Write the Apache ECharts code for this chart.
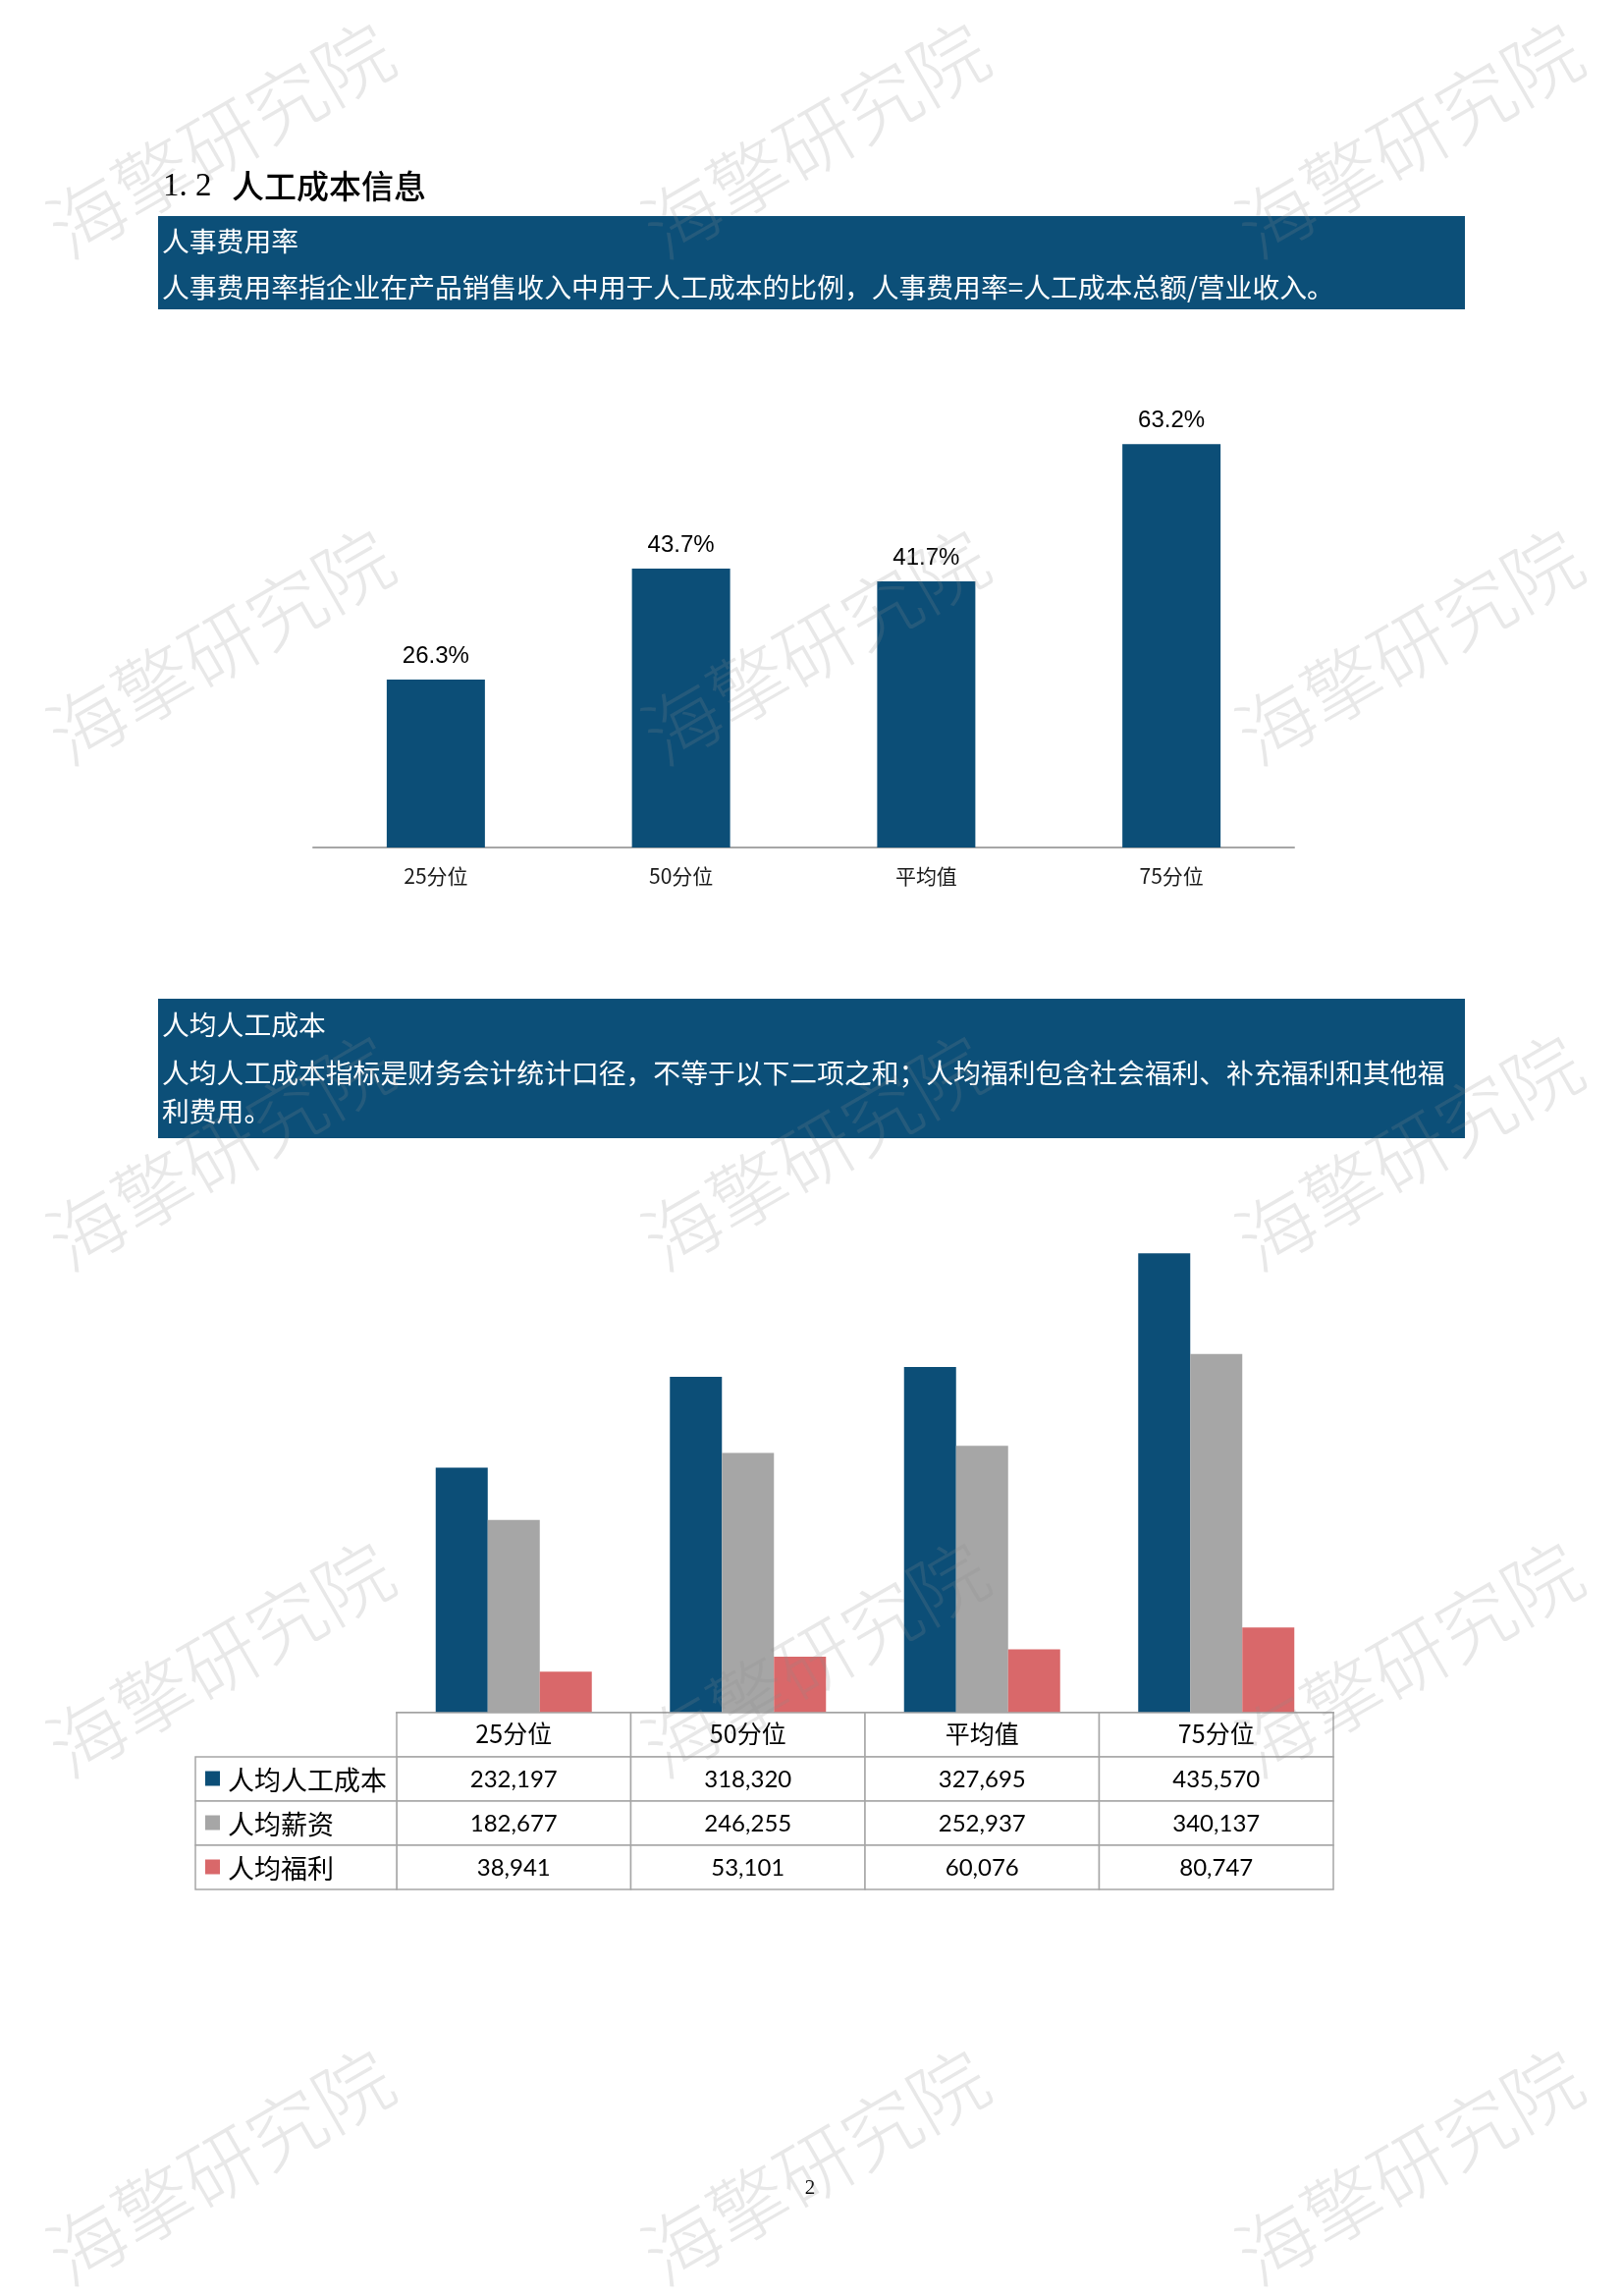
<!DOCTYPE html>
<html>
<head>
<meta charset="utf-8">
<script src="https://cdn.jsdelivr.net/npm/echarts@6/dist/echarts.min.js"></script>
<style>
html,body{margin:0;padding:0;background:#fff;}
#main{width:1653px;height:2338px;}
</style>
</head>
<body>
<div id="main"></div>
<script>
// ---- data ----
const categories = ['25分位', '50分位', '平均值', '75分位'];
const rateValues = [26.3, 43.7, 41.7, 63.2];
const seriesNames = ['人均人工成本', '人均薪资', '人均福利'];
const laborCost = [232197, 318320, 327695, 435570];
const salary = [182677, 246255, 252937, 340137];
const welfare = [38941, 53101, 60076, 80747];
const colors = ['#0c4e77', '#a6a6a6', '#d9686a'];
const rateAxisMax = 70;
const costAxisMax = 500000;

// ---- helpers ----
const cjk = '"Noto Sans CJK SC", "Noto Sans", sans-serif';
const seriesValues = [laborCost, salary, welfare];
const fmt = v => v.toLocaleString('en-US');

// table cells (header row + 3 value rows)
const tableCells = [];
const tableTexts = [];
categories.forEach((c, i) => {
  tableCells.push([i, 0]); tableTexts.push({t: c, header: true});
  seriesValues.forEach((arr, r) => {
    tableCells.push([i, r + 1]); tableTexts.push({t: fmt(arr[i]), header: false});
  });
});
const legendCells = seriesNames.map((n, r) => [0, r]);

// watermarks
const wmCols = [224, 830, 1435];
const wmRows = [142, 658, 1173, 1689, 2206];
const watermarks = [];
wmRows.forEach(y => wmCols.forEach(x => {
  watermarks.push({
    type: 'text', x: x, y: y, rotation: Math.PI / 6, z: 100, silent: true,
    style: {text: '海擎研究院', fill: 'rgba(140,140,140,0.2)', fontSize: 78,
            fontFamily: cjk, fontWeight: 300, align: 'center', verticalAlign: 'middle'}
  });
}));

const boxText = (text, x, y) => ({
  type: 'text', x: x, y: y, z: 10,
  style: {text: text, fill: '#ffffff', fontSize: 27.8, fontFamily: cjk,
          align: 'left', verticalAlign: 'middle'}
});

const chart = echarts.init(document.getElementById('main'), null, {renderer: 'canvas'});
chart.setOption({
  backgroundColor: '#ffffff',
  animation: false,
  graphic: [
    {type: 'text', x: 166, y: 190, z: 10,
     style: {text: '1. 2', fill: '#000', fontSize: 33,
             fontFamily: '"Liberation Serif", serif', align: 'left', verticalAlign: 'middle'}},
    {type: 'text', x: 236, y: 189, z: 10,
     style: {text: '人工成本信息', fill: '#000', fontSize: 33, fontWeight: 500,
             fontFamily: cjk, align: 'left', verticalAlign: 'middle'}},
    {type: 'rect', shape: {x: 161, y: 220, width: 1331, height: 95}, style: {fill: '#0c4f78'}, z: 5},
    boxText('人事费用率', 165, 245),
    boxText('人事费用率指企业在产品销售收入中用于人工成本的比例，人事费用率=人工成本总额/营业收入。', 165, 292),
    {type: 'rect', shape: {x: 161, y: 1017, width: 1331, height: 142}, style: {fill: '#0c4f78'}, z: 5},
    boxText('人均人工成本', 165, 1043),
    boxText('人均人工成本指标是财务会计统计口径，不等于以下二项之和；人均福利包含社会福利、补充福利和其他福', 165, 1092),
    boxText('利费用。', 165, 1131),
    {type: 'text', x: 825, y: 2228, z: 10,
     style: {text: '2', fill: '#000', fontSize: 21, fontFamily: '"Liberation Serif", serif',
             align: 'center', verticalAlign: 'middle'}}
  ].concat(watermarks),
  grid: [
    {left: 319, top: 408, width: 999, height: 455, containLabel: false, outerBoundsMode: 'none'},
    {left: 404, top: 1207, width: 954, height: 537, containLabel: false, outerBoundsMode: 'none'},
    {left: 404, top: 1744, width: 954, height: 180, containLabel: false, outerBoundsMode: 'none'},
    {left: 199, top: 1789, width: 205, height: 135, containLabel: false, outerBoundsMode: 'none'}
  ],
  xAxis: [
    {gridIndex: 0, type: 'category', data: categories,
     axisLine: {show: true, lineStyle: {color: '#a6a6a6', width: 2}},
     axisTick: {show: false}, splitLine: {show: false},
     axisLabel: {margin: 19, fontSize: 21, color: '#1a1a1a', fontFamily: cjk}},
    {gridIndex: 1, type: 'category', data: categories,
     axisLine: {show: true, lineStyle: {color: '#9a9a9a', width: 2}},
     axisTick: {show: false}, axisLabel: {show: false}, splitLine: {show: false}},
    {gridIndex: 2, type: 'category', data: categories, show: false},
    {gridIndex: 3, type: 'category', data: [''], show: false}
  ],
  yAxis: [
    {gridIndex: 0, type: 'value', min: 0, max: rateAxisMax, show: false, splitLine: {show: false}},
    {gridIndex: 1, type: 'value', min: 0, max: costAxisMax, show: false, splitLine: {show: false}},
    {gridIndex: 2, type: 'category', data: [''].concat(seriesNames), inverse: true, show: false},
    {gridIndex: 3, type: 'category', data: seriesNames, inverse: true, show: false}
  ],
  series: [
    {type: 'bar', name: '人事费用率', xAxisIndex: 0, yAxisIndex: 0, data: rateValues,
     barWidth: 100, itemStyle: {color: colors[0]},
     label: {show: true, position: 'top', distance: 12, formatter: p => p.value.toFixed(1) + '%',
             fontSize: 24, color: '#000', fontFamily: '"Liberation Sans", Arial, sans-serif'}},
    {type: 'bar', name: seriesNames[0], xAxisIndex: 1, yAxisIndex: 1, data: laborCost,
     barWidth: 53, barGap: '0%', itemStyle: {color: colors[0]}},
    {type: 'bar', name: seriesNames[1], xAxisIndex: 1, yAxisIndex: 1, data: salary,
     barWidth: 53, barGap: '0%', itemStyle: {color: colors[1]}},
    {type: 'bar', name: seriesNames[2], xAxisIndex: 1, yAxisIndex: 1, data: welfare,
     barWidth: 53, barGap: '0%', itemStyle: {color: colors[2]}},
    {type: 'custom', xAxisIndex: 2, yAxisIndex: 2, data: tableCells, z: 3,
     renderItem: (params, api) => {
       const c = api.coord([api.value(0), api.value(1)]);
       const s = api.size([1, 1]);
       const info = tableTexts[params.dataIndex];
       return {type: 'group', children: [
         {type: 'rect', shape: {x: c[0] - s[0] / 2, y: c[1] - s[1] / 2, width: s[0], height: s[1]},
          style: {fill: '#fff', stroke: '#a6a6a6', lineWidth: 1.5}},
         {type: 'text', x: c[0], y: c[1] + (info.header ? -1 : 1),
          style: {text: info.t, fill: '#000', fontSize: info.header ? 25 : 24,
                  fontFamily: info.header ? cjk : 'Lato, "Noto Sans", sans-serif',
                  align: 'center', verticalAlign: 'middle'}}
       ]};
     }},
    {type: 'custom', xAxisIndex: 3, yAxisIndex: 3, data: legendCells, z: 3,
     renderItem: (params, api) => {
       const c = api.coord([api.value(0), api.value(1)]);
       const s = api.size([1, 1]);
       const left = c[0] - s[0] / 2;
       return {type: 'group', children: [
         {type: 'rect', shape: {x: left, y: c[1] - s[1] / 2, width: s[0], height: s[1]},
          style: {fill: '#fff', stroke: '#a6a6a6', lineWidth: 1.5}},
         {type: 'rect', shape: {x: left + 10, y: c[1] - 8, width: 15, height: 15},
          style: {fill: colors[params.dataIndex]}},
         {type: 'text', x: left + 33, y: c[1] + 1,
          style: {text: seriesNames[params.dataIndex], fill: '#000', fontSize: 27, fontFamily: cjk,
                  align: 'left', verticalAlign: 'middle'}}
       ]};
     }}
  ]
});
</script>
</body>
</html>
